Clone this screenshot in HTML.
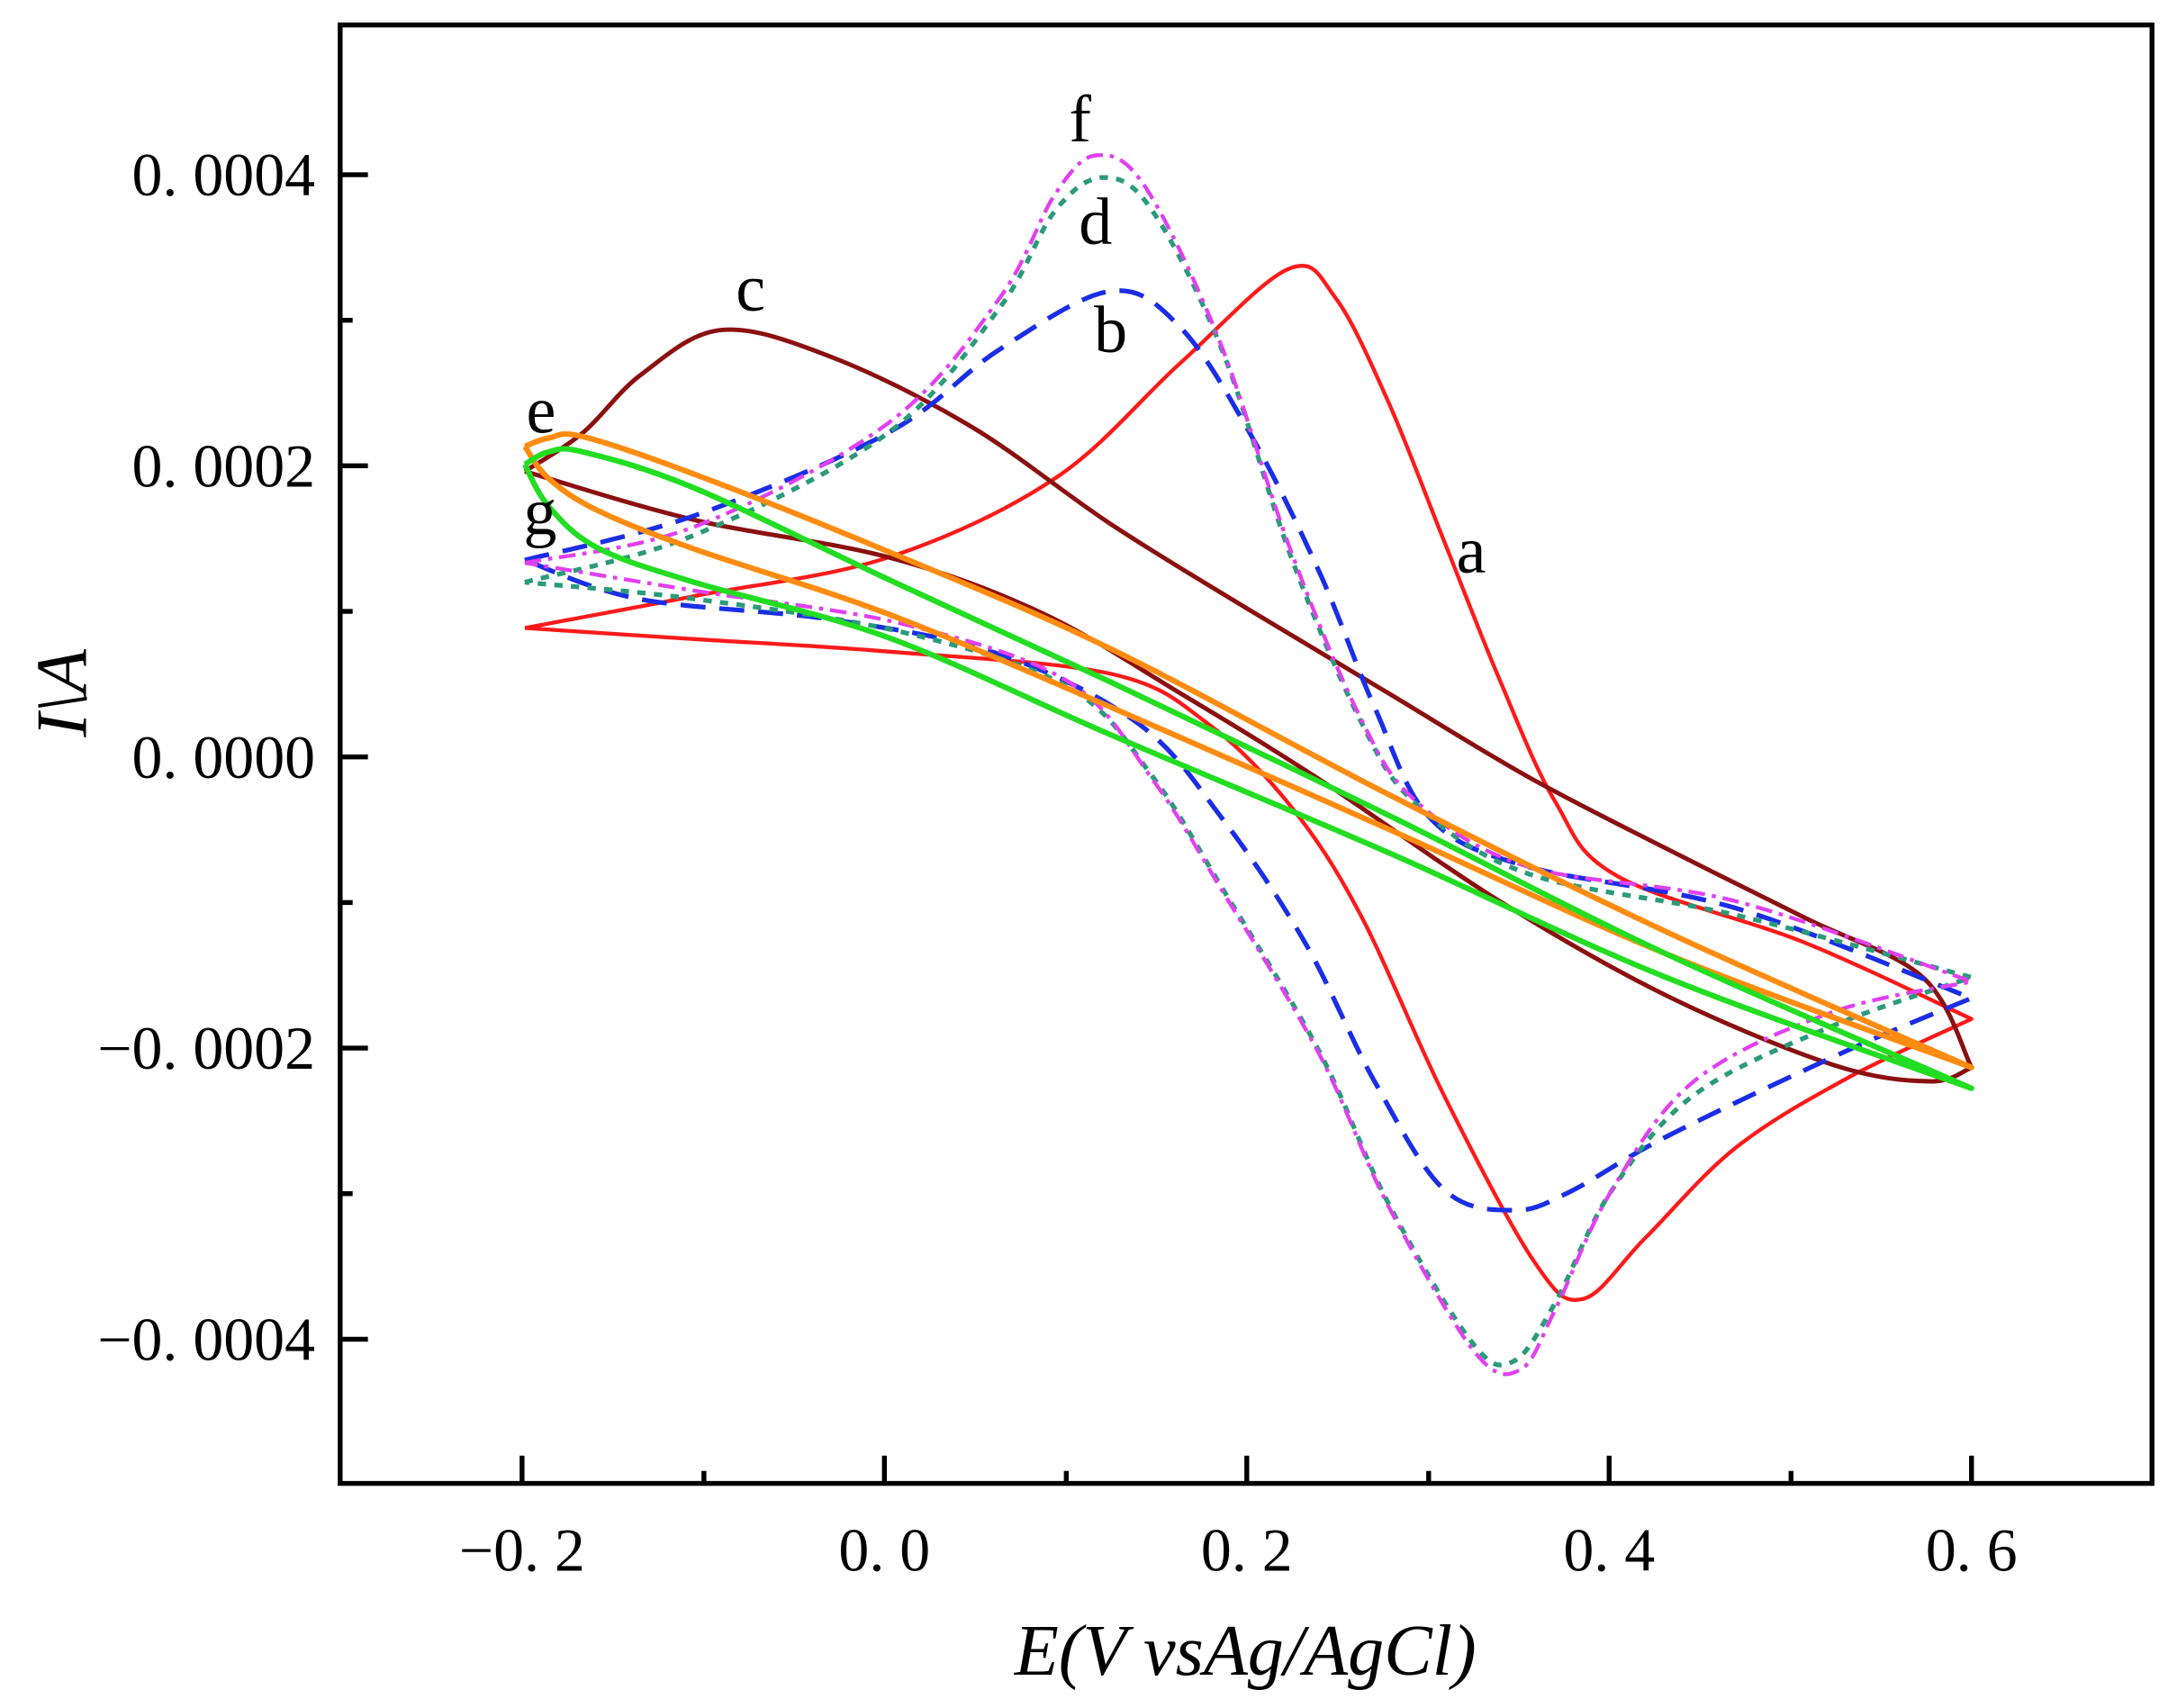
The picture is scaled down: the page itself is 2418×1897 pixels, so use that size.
<!DOCTYPE html>
<html><head><meta charset="utf-8">
<style>
html,body{margin:0;padding:0;background:#fff;}
svg{display:block;}
text{font-family:"Liberation Serif","DejaVu Serif",serif;fill:#000;}
</style></head>
<body>
<svg id="s" width="2418" height="1897" viewBox="0 0 1568 1232" preserveAspectRatio="none" xmlns="http://www.w3.org/2000/svg">
<rect x="0" y="0" width="1568" height="1232" fill="#fff"/>
<g id="curves" fill="none" stroke-linejoin="round" stroke-linecap="butt"></g>
<rect x="245" y="18" width="1305" height="1052" fill="none" stroke="#000" stroke-width="3.5"/>
<g stroke="#000" stroke-width="3.5">
<line x1="376" y1="1070" x2="376" y2="1050"/><line x1="507" y1="1070" x2="507" y2="1061"/>
<line x1="637" y1="1070" x2="637" y2="1050"/><line x1="768" y1="1070" x2="768" y2="1061"/>
<line x1="898" y1="1070" x2="898" y2="1050"/><line x1="1029" y1="1070" x2="1029" y2="1061"/>
<line x1="1159" y1="1070" x2="1159" y2="1050"/><line x1="1290" y1="1070" x2="1290" y2="1061"/>
<line x1="1420" y1="1070" x2="1420" y2="1050"/>
<line x1="245" y1="126" x2="265" y2="126"/><line x1="245" y1="231" x2="254" y2="231"/>
<line x1="245" y1="336" x2="265" y2="336"/><line x1="245" y1="441" x2="254" y2="441"/>
<line x1="245" y1="546" x2="265" y2="546"/><line x1="245" y1="651" x2="254" y2="651"/>
<line x1="245" y1="756" x2="265" y2="756"/><line x1="245" y1="861" x2="254" y2="861"/>
<line x1="245" y1="966" x2="265" y2="966"/>
</g>
<g font-size="44" text-anchor="end">
<text x="227" y="141">0. 0004</text>
<text x="227" y="351">0. 0002</text>
<text x="227" y="561">0. 0000</text>
<text x="227" y="771">−0. 0002</text>
<text x="227" y="981">−0. 0004</text>
</g>
<g font-size="44" text-anchor="middle">
<text x="376" y="1133">−0. 2</text>
<text x="637" y="1133">0. 0</text>
<text x="898" y="1133">0. 2</text>
<text x="1159" y="1133">0. 4</text>
<text x="1420" y="1133">0. 6</text>
</g>
<text x="897" y="1208" font-size="52" font-style="italic" text-anchor="middle">E(V vsAg/AgCl)</text>
<text transform="translate(62,500) rotate(-90)" font-size="52" font-style="italic" text-anchor="middle">I\A</text>
<g font-size="48">
<text x="770" y="102">f</text>
<text x="777" y="176">d</text>
<text x="530" y="224">c</text>
<text x="788" y="254">b</text>
<text x="379" y="312">e</text>
<text x="377" y="385">g</text>
<text x="1049" y="413">a</text>
</g>
</svg>
<script>
function cr(pts){var d="M"+pts[0][0]+","+pts[0][1];
for(var i=0;i<pts.length-1;i++){var p0=pts[i-1]||pts[i],p1=pts[i],p2=pts[i+1],p3=pts[i+2]||p2;
d+=" C"+(p1[0]+(p2[0]-p0[0])/6).toFixed(1)+","+(p1[1]+(p2[1]-p0[1])/6).toFixed(1)+" "+(p2[0]-(p3[0]-p1[0])/6).toFixed(1)+","+(p2[1]-(p3[1]-p1[1])/6).toFixed(1)+" "+p2[0]+","+p2[1];}
return d;}
var C=[
{c:"#ff1a1a",w:2.8,da:"",b:[[[378,453],[500,430],[640,402],[760,345],[850,262],[928,194],[962,215],[1000,290],[1040,390],[1080,490],[1120,578],[1165,632],[1300,680],[1420,735]],[[1420,735],[1330,778],[1250,828],[1185,893],[1140,937],[1105,910],[1040,790],[980,660],[930,582],[870,522],[800,486],[640,470],[500,461],[378,453]]]},
{c:"#8b1010",w:3.2,da:"",b:[[[378,340],[420,312],[462,270],[520,238],[600,258],[700,308],[800,378],[900,440],[1000,500],[1100,560],[1200,612],[1300,662],[1385,705],[1420,770]],[[1420,770],[1390,780],[1320,768],[1200,718],[1080,650],[950,562],[850,500],[750,442],[640,402],[500,375],[378,340]]]},
{c:"#1a2ee6",w:3.4,da:"18,10",b:[[[378,404],[500,372],[640,312],[720,252],[800,210],[850,236],[900,312],[950,412],[990,510],[1030,590],[1100,625],[1250,655],[1420,720]],[[1420,720],[1330,758],[1200,820],[1130,860],[1090,873],[1040,858],[990,780],[940,680],[880,590],[820,522],[720,472],[600,447],[460,432],[378,404]]]},
{c:"#2a9a7a",w:3.4,da:"6,6",b:[[[378,420],[500,386],[640,312],[720,222],[760,152],[795,128],[830,152],[880,252],[930,402],[980,520],[1020,580],[1100,630],[1250,660],[1420,705]],[[1420,705],[1320,740],[1220,790],[1160,860],[1120,940],[1090,982],[1060,968],[1000,868],[950,758],[880,640],[830,560],[770,496],[650,456],[500,432],[378,420]]]},
{c:"#e040f0",w:2.8,da:"12,5,3,5",b:[[[378,406],[500,380],[640,305],[720,215],[760,140],[790,112],[825,135],[878,245],[930,398],[980,518],[1020,578],[1100,625],[1250,650],[1420,708]],[[1420,708],[1320,730],[1220,780],[1160,860],[1120,945],[1095,988],[1062,975],[1000,870],[950,760],[880,642],[830,562],[770,492],[650,450],[500,426],[378,406]]]},
{c:"#ff8c10",w:4,da:"",b:[[[378,322],[395,316],[420,315],[500,342],[640,398],[800,468],[1000,573],[1200,672],[1420,770]],[[1420,770],[1200,688],[1000,598],[800,510],[640,443],[500,396],[430,368],[395,345],[378,322]]]},
{c:"#22dd22",w:4,da:"",b:[[[378,335],[395,326],[420,326],[500,352],[640,418],[800,492],[1000,588],[1200,688],[1420,785]],[[1420,785],[1200,705],[1000,615],[800,530],[640,460],[500,420],[430,395],[395,365],[378,335]]]}
];
var g=document.getElementById("curves"),ns="http://www.w3.org/2000/svg";
C.forEach(function(s){var d=cr(s.b[0])+" "+cr(s.b[1]).replace(/^M[^ ]+/,"");
var p=document.createElementNS(ns,"path");p.setAttribute("d",d);p.setAttribute("stroke",s.c);p.setAttribute("stroke-width",s.w);if(s.da)p.setAttribute("stroke-dasharray",s.da);g.appendChild(p);});
</script>
</body></html>
